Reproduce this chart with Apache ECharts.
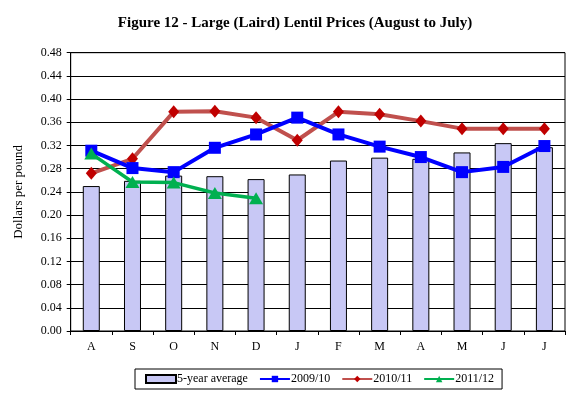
<!DOCTYPE html>
<html>
<head>
<meta charset="utf-8">
<script src="https://cdn.jsdelivr.net/npm/echarts@6/dist/echarts.min.js"></script>
<style>html,body{margin:0;padding:0;background:#fff}#c{width:580px;height:396px}</style>
</head>
<body>
<div id="c"></div>
<script>
const categories = ['A','S','O','N','D','J','F','M','A','M','J','J'];
const avg5 = [0.250,0.259,0.268,0.267,0.262,0.270,0.294,0.299,0.297,0.308,0.324,0.317];
const s0910 = [0.311,0.281,0.274,0.316,0.339,0.368,0.339,0.318,0.300,0.274,0.283,0.319];
const s1011 = [0.272,0.297,0.378,0.379,0.368,0.329,0.378,0.374,0.362,0.349,0.349,0.349];
const s1112 = [0.306,0.257,0.256,0.238,0.229,null,null,null,null,null,null,null];
const yTicks = {min:0,max:0.48,interval:0.04};

const font = '"Liberation Serif", "Times New Roman", serif';
const chart = echarts.init(document.getElementById('c'));
chart.setOption({
  animation:false,
  backgroundColor:'#fff',
  textStyle:{fontFamily:font},
  title:{
    text:'Figure 12 - Large (Laird) Lentil Prices (August to July)',
    left:290, top:11, textAlign:'center',
    textStyle:{fontFamily:font,fontSize:15,fontWeight:'bold',color:'#000'}
  },
  grid:{left:70.7,right:15,top:52.7,bottom:65,show:true,borderColor:'#000',borderWidth:1,containLabel:false},
  legend:{
    left:135, top:369, width:367,
    borderColor:'#000', borderWidth:1, padding:[4,8,4,10],
    itemGap:11, itemWidth:30, itemHeight:8,
    textStyle:{fontFamily:font,fontSize:12,color:'#000',padding:[0,0,0,-4]},
    data:[
      {name:'5-year average',icon:'rect'},
      {name:'2009/10'},
      {name:'2010/11'},
      {name:'2011/12'}
    ]
  },
  xAxis:{
    type:'category', data:categories, boundaryGap:true,
    axisLine:{lineStyle:{color:'#000',width:1}},
    axisTick:{show:true,alignWithLabel:false,length:4,lineStyle:{color:'#000'}},
    axisLabel:{color:'#000',fontFamily:font,fontSize:12,margin:10},
    splitLine:{show:false}
  },
  yAxis:{
    type:'value', min:yTicks.min, max:yTicks.max, interval:yTicks.interval,
    name:'Dollars per pound', nameLocation:'middle', nameGap:46, nameRotate:90,
    nameTextStyle:{fontFamily:font,fontSize:13,color:'#000'},
    axisLine:{show:true,lineStyle:{color:'#000',width:1}},
    axisTick:{show:true,length:4,lineStyle:{color:'#000'}},
    axisLabel:{color:'#000',fontFamily:font,fontSize:12,margin:9,formatter:v=>v.toFixed(2)},
    splitLine:{show:true,lineStyle:{color:'#000',width:1}}
  },
  series:[
    {name:'5-year average',type:'bar',data:avg5,barWidth:17,
     itemStyle:{color:'#C8C8F5',borderColor:'#000',borderWidth:1},z:1},
    {name:'2009/10',type:'line',data:s0910,symbol:'rect',symbolSize:12,
     lineStyle:{color:'#0000FF',width:4},itemStyle:{color:'#0000FF'},z:3},
    {name:'2010/11',type:'line',data:s1011,symbol:'diamond',symbolSize:[11,13],
     lineStyle:{color:'#C0504D',width:4},itemStyle:{color:'#C00000'},z:2},
    {name:'2011/12',type:'line',data:s1112,symbol:'triangle',symbolSize:[14,12],
     lineStyle:{color:'#00B050',width:3.5},itemStyle:{color:'#00B050'},z:4}
  ]
});
</script>
</body>
</html>
